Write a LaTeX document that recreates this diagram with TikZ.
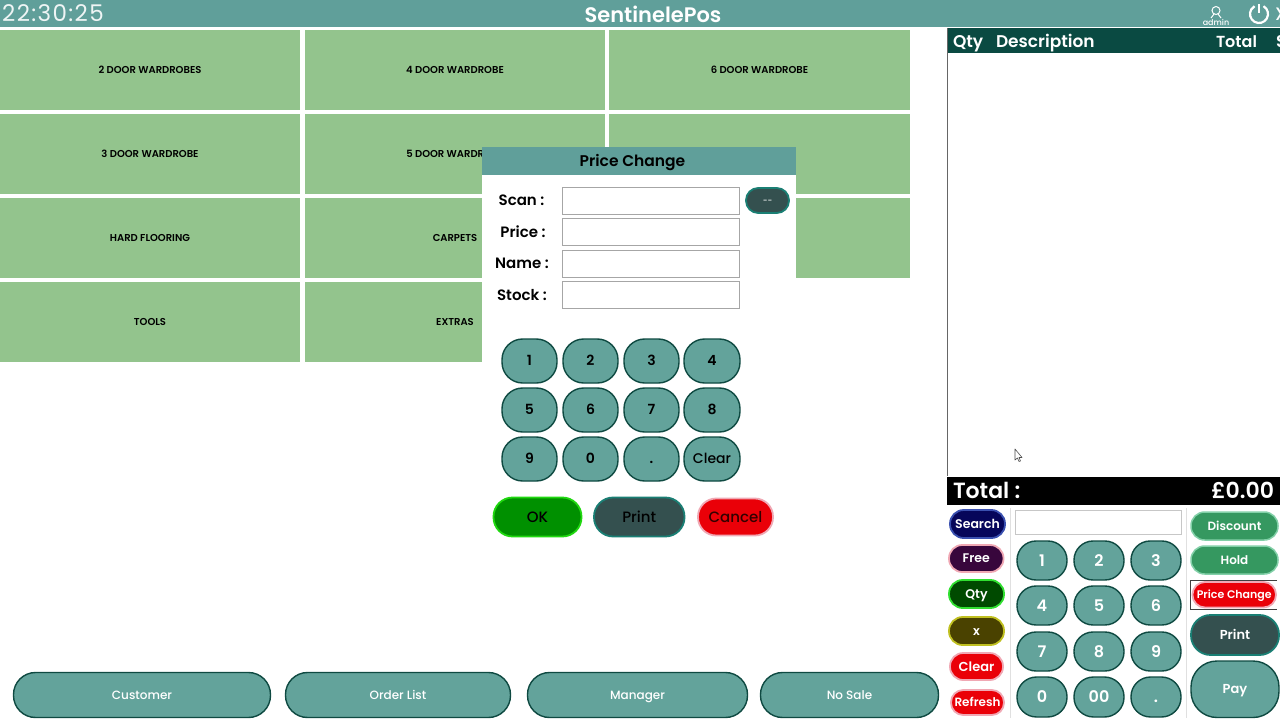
\documentclass[tikz,border=0pt]{standalone}
\usepackage{fontspec}
\setmainfont{Poppins}[UprightFont=* Medium,BoldFont=* SemiBold]
\newfontfamily\clockfont{Poppins}[LetterSpace=6]
\definecolor{barteal}{HTML}{609F9A}
\definecolor{btnteal}{HTML}{63A39B}
\definecolor{darkline}{HTML}{0F4A42}
\definecolor{headdark}{HTML}{0A4A42}
\definecolor{tile}{HTML}{93C48D}
\definecolor{slate}{HTML}{34504F}
\definecolor{slateb}{HTML}{1A7F74}
\definecolor{pinkb}{HTML}{F0A8B4}
\definecolor{mint}{HTML}{359860}
\definecolor{mintb}{HTML}{82D0A8}
\definecolor{redf}{HTML}{EA0008}
\definecolor{okf}{HTML}{009000}
\definecolor{okb}{HTML}{20D810}
\definecolor{navy}{HTML}{06065A}
\definecolor{navyb}{HTML}{3A50B0}
\definecolor{plum}{HTML}{38063C}
\definecolor{qtyf}{HTML}{004A00}
\definecolor{qtyb}{HTML}{30E030}
\definecolor{olivef}{HTML}{4A4200}
\definecolor{oliveb}{HTML}{C0C020}
\tikzset{
  x=1pt,y=-1pt,
  base/.style={inner sep=0,outer sep=0,align=center},
  tiletxt/.style={base,fill=tile,text=black},
  keyk/.style={base,fill=btnteal,draw=darkline,line width=1.4pt,text=black},
  keyw/.style={base,fill=btnteal,draw=darkline,line width=1.4pt,text=white},
  slatebtn/.style={base,fill=slate,draw=slateb,line width=1.8pt},
  greenbtn/.style={base,fill=mint,draw=mintb,line width=1.5pt,text=white},
  redbtn/.style={base,fill=redf,draw=pinkb,line width=1.8pt,text=white},
  field/.style={base,fill=white,draw=black!35,line width=.8pt},
  lab/.style={inner sep=0,outer sep=0,text=black},
  hdr/.style={inner sep=0,outer sep=0,anchor=base west,text=white},
}
% name, x1,y1,x2,y2, style, font size, radius factor, text
\newcommand{\btn}[9]{%
  \pgfmathsetmacro{\bw}{#4-#2}\pgfmathsetmacro{\bh}{#5-#3}%
  \pgfmathsetmacro{\bx}{(#2+#4)/2}\pgfmathsetmacro{\by}{(#3+#5)/2}%
  \pgfmathsetmacro{\br}{#8*\bh}%
  \node[#6,rectangle,rounded corners=\br pt,minimum width=\bw pt,minimum height=\bh pt] (#1) at (\bx,\by) {\fontsize{#7}{#7}\selectfont\raisebox{-.35em}[0pt][0pt]{#9}};}
\begin{document}
\begin{tikzpicture}
\useasboundingbox (0,0) rectangle (1280,720);
\fill[white] (0,0) rectangle (1280,720);
% top bar
\fill[barteal] (0,0) rectangle (1280,27);
\node[inner sep=0,text=white!90!barteal] (clock) at (53,13.5) {\fontsize{23}{23}\selectfont\clockfont 22:30:25};
\node[inner sep=0,text=white] (title) at (653,14) {\fontsize{21}{21}\selectfont\bfseries SentinelePos};
\node[inner sep=0,text=white] (admin) at (1216,22) {\fontsize{8}{8}\selectfont admin};
\draw[white,line width=1pt] (1216,10.5) circle (4);
\draw[white,line width=1pt] (1211,18) -- (1214,14) (1221,18) -- (1218,14);
\draw[white,line width=2.2pt] (1263.5,6.2) arc (-60:240:9);
\draw[white,line width=2.2pt] (1259,4) -- (1259,13);
\node[inner sep=0,anchor=west,text=white] (closex) at (1275,14) {\fontsize{18}{18}\selectfont X};
% tiles
\btn{t1}{0}{30}{300}{110}{tiletxt}{10}{0}{\bfseries 2 DOOR WARDROBES}
\btn{t2}{305}{30}{605}{110}{tiletxt}{10}{0}{\bfseries 4 DOOR WARDROBE}
\btn{t3}{609}{30}{910}{110}{tiletxt}{10}{0}{\bfseries 6 DOOR WARDROBE}
\btn{t4}{0}{114}{300}{194}{tiletxt}{10}{0}{\bfseries 3 DOOR WARDROBE}
\btn{t5}{305}{114}{605}{194}{tiletxt}{10}{0}{\bfseries 5 DOOR WARDROBE}
\btn{t6}{609}{114}{910}{194}{tiletxt}{10}{0}{}
\btn{t7}{0}{198}{300}{278}{tiletxt}{10}{0}{\bfseries HARD FLOORING}
\btn{t8}{305}{198}{605}{278}{tiletxt}{10}{0}{\bfseries CARPETS}
\btn{t9}{609}{198}{910}{278}{tiletxt}{10}{0}{}
\btn{t10}{0}{282}{300}{362}{tiletxt}{10}{0}{\bfseries TOOLS}
\btn{t11}{305}{282}{605}{362}{tiletxt}{10}{0}{\bfseries EXTRAS}
% dialog
\fill[white] (482,147) rectangle (796,560);
\fill[barteal] (482,147) rectangle (796,175);
\btn{dlghead}{482}{147}{783}{175}{base,text=black}{15.5}{0}{\bfseries Price Change}
\node[lab] (lscan) at (521.5,200.5) {\fontsize{15}{15}\selectfont\bfseries Scan :};
\node[lab] (lprice) at (523,232) {\fontsize{15}{15}\selectfont\bfseries Price :};
\node[lab] (lname) at (522,263.5) {\fontsize{15}{15}\selectfont\bfseries Name :};
\node[lab] (lstock) at (522,295) {\fontsize{15}{15}\selectfont\bfseries Stock :};
\btn{fscan}{562}{187}{739.5}{214}{field}{10}{0}{}
\btn{fprice}{562}{218}{739.5}{245}{field}{10}{0}{}
\btn{fname}{562}{250}{739.5}{277}{field}{10}{0}{}
\btn{fstock}{562}{281}{739.5}{308}{field}{10}{0}{}
\btn{dash}{746}{188}{789}{213}{slatebtn,text=white}{8}{.49}{{-}{-}}
\btn{d1}{502}{339}{557}{383}{keyk}{14}{.47}{\bfseries 1}
\btn{d2}{563}{339}{618}{383}{keyk}{14}{.47}{\bfseries 2}
\btn{d3}{624}{339}{679}{383}{keyk}{14}{.47}{\bfseries 3}
\btn{d4}{684}{339}{740}{383}{keyk}{14}{.47}{\bfseries 4}
\btn{d5}{502}{388}{557}{432}{keyk}{14}{.47}{\bfseries 5}
\btn{d6}{563}{388}{618}{432}{keyk}{14}{.47}{\bfseries 6}
\btn{d7}{624}{388}{679}{432}{keyk}{14}{.47}{\bfseries 7}
\btn{d8}{684}{388}{740}{432}{keyk}{14}{.47}{\bfseries 8}
\btn{d9}{502}{437}{557}{481}{keyk}{14}{.47}{\bfseries 9}
\btn{d0}{563}{437}{618}{481}{keyk}{14}{.47}{\bfseries 0}
\btn{ddot}{624}{437}{679}{481}{keyk}{14}{.47}{\bfseries .}
\btn{dclr}{684}{437}{740}{481}{keyk}{14}{.47}{Clear}
\btn{ok}{493.5}{497.5}{581.5}{536.5}{base,fill=okf,draw=okb,line width=1.8pt,text=black}{15}{.49}{OK}
\btn{dprint}{594}{497.5}{684.5}{536.5}{slatebtn,text=black}{15}{.49}{Print}
\btn{cancel}{698}{498.5}{773}{535.5}{redbtn,text=black!80!red}{15}{.49}{Cancel}
% receipt panel
\fill[headdark] (947,28) rectangle (1280,53);
\draw[black!60,line width=1pt] (947,28) -- (947,476);
\fill[black] (947,477) rectangle (1280,505);
\node[hdr] (hq) at (953,47) {\fontsize{17}{17}\selectfont\bfseries Qty};
\node[hdr] (hd) at (996,47) {\fontsize{17}{17}\selectfont\bfseries Description};
\node[hdr] (ht) at (1216,47) {\fontsize{16}{16}\selectfont\bfseries Total};
\node[hdr] (hs) at (1276,47) {\fontsize{17}{17}\selectfont\bfseries S};
\node[hdr] (tl) at (953,498) {\fontsize{22}{22}\selectfont\bfseries Total :};
\node[hdr,anchor=base east] (tv) at (1274,498) {\fontsize{22}{22}\selectfont\bfseries £0.00};
% cursor
\draw[black!70,fill=white,line width=.6pt,line join=round] (1015,449) -- (1015,460) -- (1017.5,458) -- (1019,461.5) -- (1020.5,461) -- (1019,457.5) -- (1022,457.5) -- cycle;
% dividers
\draw[black!12,line width=1pt] (1010,508) -- (1010,718) (1186,508) -- (1186,718);
% left keys
\btn{search}{950}{510}{1005}{538}{base,fill=navy,draw=navyb,line width=1.8pt,text=white}{12.5}{.49}{\bfseries Search}
\btn{free}{949}{545}{1003.5}{572}{base,fill=plum,draw=pinkb,line width=1.8pt,text=white}{12.5}{.49}{\bfseries Free}
\btn{qty}{949}{580}{1004}{608}{base,fill=qtyf,draw=qtyb,line width=1.8pt,text=white}{12.5}{.49}{\bfseries Qty}
\btn{xbtn}{949}{617}{1004}{645}{base,fill=olivef,draw=oliveb,line width=1.8pt,text=white}{12.5}{.49}{\bfseries x}
\btn{lclear}{950}{653}{1003}{680}{redbtn}{13}{.49}{\bfseries Clear}
\btn{refresh}{951}{690}{1004}{715}{redbtn}{12}{.49}{\bfseries Refresh}
\btn{sbox}{1015}{510}{1181}{534}{field,draw=black!22}{10}{0}{}
% numeric pad
\btn{n1}{1017}{541}{1067}{580}{keyw}{16}{.49}{\bfseries 1}
\btn{n2}{1074}{541}{1124}{580}{keyw}{16}{.49}{\bfseries 2}
\btn{n3}{1131}{541}{1181}{580}{keyw}{16}{.49}{\bfseries 3}
\btn{n4}{1017}{586}{1067}{625}{keyw}{16}{.49}{\bfseries 4}
\btn{n5}{1074}{586}{1124}{625}{keyw}{16}{.49}{\bfseries 5}
\btn{n6}{1131}{586}{1181}{625}{keyw}{16}{.49}{\bfseries 6}
\btn{n7}{1017}{632}{1067}{671}{keyw}{16}{.49}{\bfseries 7}
\btn{n8}{1074}{632}{1124}{671}{keyw}{16}{.49}{\bfseries 8}
\btn{n9}{1131}{632}{1181}{671}{keyw}{16}{.49}{\bfseries 9}
\btn{n0}{1017}{677}{1067}{717}{keyw}{16}{.49}{\bfseries 0}
\btn{n00}{1074}{677}{1124}{717}{keyw}{16}{.49}{\bfseries 00}
\btn{ndot}{1131}{677}{1181}{717}{keyw}{16}{.49}{\bfseries .}
% right keys
\btn{disc}{1191}{512}{1278}{540}{greenbtn}{12}{.49}{\bfseries Discount}
\btn{hold}{1191}{546}{1278}{574}{greenbtn}{12}{.49}{\bfseries Hold}
\draw[black!75,line width=.7pt] (1277,580) -- (1190,580) -- (1190,609) -- (1277,609);
\btn{pc}{1192.5}{582}{1276}{607.5}{redbtn}{11}{.49}{\bfseries Price Change}
\btn{rprint}{1191}{615}{1279}{655}{slatebtn,text=white}{13}{.49}{\bfseries Print}
\btn{pay}{1191}{661}{1279}{717.5}{keyw}{13}{.46}{\bfseries Pay}
% bottom keys
\btn{cust}{13.5}{672.5}{270.5}{717.5}{keyw}{12}{.49}{Customer}
\btn{orders}{285.5}{672.5}{510.5}{717.5}{keyw}{12}{.49}{Order List}
\btn{mgr}{527.5}{672.5}{747.5}{717.5}{keyw}{12}{.49}{Manager}
\btn{nosale}{760.5}{672.5}{938.5}{717.5}{keyw}{12}{.49}{No Sale}
\end{tikzpicture}
\end{document}
